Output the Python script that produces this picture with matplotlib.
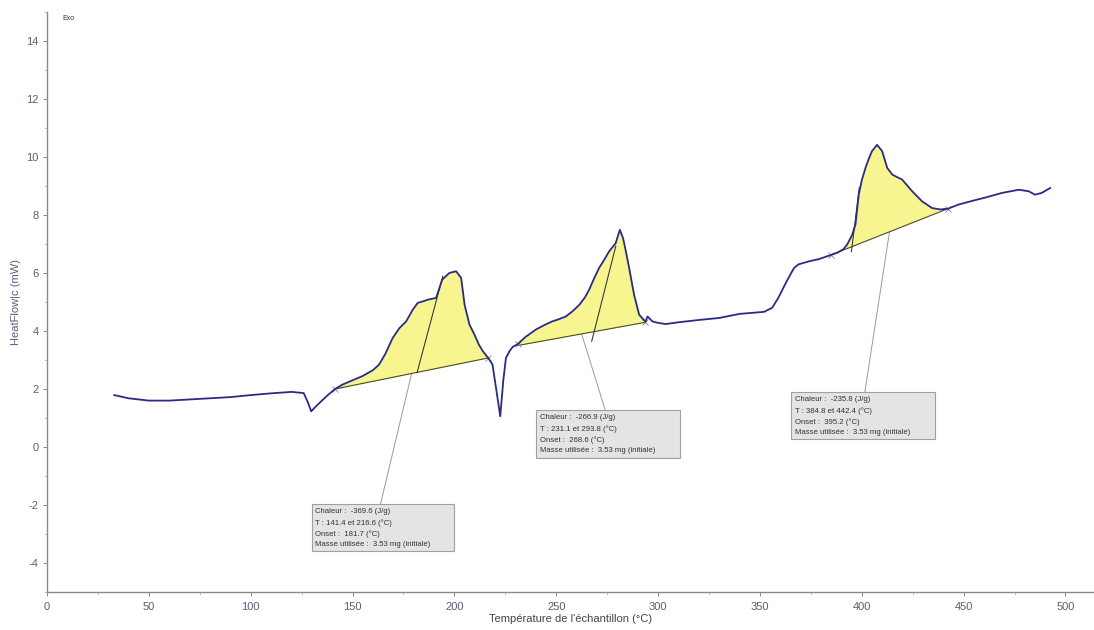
import numpy as np
import matplotlib
matplotlib.use("Agg")
import matplotlib.pyplot as plt
from matplotlib.patches import Rectangle
from matplotlib.ticker import MultipleLocator

plt.rcParams['font.family'] = ['Liberation Sans', 'DejaVu Sans']
plt.rcParams['axes.unicode_minus'] = False

# DSC heat-flow curve (temperature in °C, heat flow in mW)
temperature = [33, 40, 50, 60, 75, 90, 100, 110, 120, 126, 128, 129.7, 132, 135.4, 138,
               141.4, 145, 150, 155, 160, 163, 166, 169.7, 173, 176.3, 179.6, 182, 184.5,
               187, 191, 194, 197.5, 200.8, 203.3, 205, 207.4, 210, 212, 214, 216.6, 218.7,
               220.5, 222.5, 224, 225.3, 227, 228.6, 231.1, 235, 240, 244, 248, 251, 254.7,
               258, 261.3, 264, 266.2, 268.5, 271, 273.5, 276, 279.2, 281.2, 282.8, 284.3,
               285.8, 288.2, 290.7, 293.8, 294.8, 296, 297.2, 300, 303.7, 310, 320, 330,
               340, 352, 356, 359, 363, 366.7, 369, 374, 379, 384.8, 388, 391, 392.8,
               395.2, 396.9, 398.5, 400, 401.8, 403.5, 405, 407.5, 410, 412.5, 415, 419.8,
               424.7, 429.6, 434.5, 438.6, 442.4, 447.5, 455, 460.6, 468.8, 477, 481.9,
               485, 488.3, 492.5]
heat_flow = [1.79, 1.68, 1.60, 1.60, 1.66, 1.72, 1.79, 1.85, 1.90, 1.86, 1.55, 1.23, 1.40,
             1.63, 1.80, 2.00, 2.15, 2.30, 2.45, 2.65, 2.84, 3.20, 3.76, 4.10, 4.33, 4.74,
             4.97, 5.02, 5.08, 5.14, 5.77, 6.00, 6.06, 5.83, 4.90, 4.22, 3.85, 3.53, 3.30,
             3.07, 2.84, 2.00, 1.06, 2.30, 3.07, 3.30, 3.45, 3.55, 3.80, 4.05, 4.20, 4.33,
             4.40, 4.50, 4.68, 4.90, 5.15, 5.43, 5.80, 6.17, 6.45, 6.75, 7.03, 7.49, 7.20,
             6.70, 6.17, 5.25, 4.56, 4.32, 4.50, 4.42, 4.33, 4.28, 4.24, 4.30, 4.38, 4.45,
             4.59, 4.66, 4.80, 5.14, 5.70, 6.17, 6.30, 6.40, 6.48, 6.62, 6.70, 6.82, 6.98,
             7.30, 7.67, 8.70, 9.20, 9.62, 9.95, 10.20, 10.42, 10.20, 9.62, 9.39, 9.22,
             8.82, 8.47, 8.24, 8.19, 8.22, 8.36, 8.50, 8.60, 8.76, 8.87, 8.82, 8.70, 8.76,
             8.93]

# Integrated peaks: limits, baseline values at the limits, onset, results
peak_start = [141.4, 231.1, 384.8]
peak_end = [216.6, 293.8, 442.4]
base_start = [2.00, 3.50, 6.62]
base_end = [3.07, 4.30, 8.22]
onset = [181.7, 268.6, 395.2]
tangent_top = [(194.3, 5.89), (279.2, 6.92), (398.8, 8.95)]
tangent_low = [181.7, 267.4, 394.9]
chaleur = ["-369.6", "-266.9", "-235.8"]
masse = "3.53"

# Result boxes (left, top, right, bottom in data units) and leader anchor on box
box_extent = [(129.9, -1.97, 200.0, -3.59), (240.2, 1.28, 310.8, -0.38),
              (365.2, 1.90, 435.8, 0.28)]
leader_foot = [(163.7, -1.97), (274.0, 1.28), (401.5, 1.90)]

fig = plt.figure(figsize=(10.94, 6.30), dpi=100)
ax = fig.add_axes([0.043, 0.0603, 0.957, 0.9207])
ax.set_xlim(0, 514)
ax.set_ylim(-5, 15)

axis_grey = "#8a8a8a"
label_col = "#5c5c78"
curve_col = "#2b2b86"

T = np.array(temperature)
H = np.array(heat_flow)

for i in range(3):
    t0, t1 = peak_start[i], peak_end[i]
    b0, b1 = base_start[i], base_end[i]
    tt = np.linspace(t0, t1, 400)
    curve = np.interp(tt, T, H)
    base = b0 + (tt - t0) * (b1 - b0) / (t1 - t0)
    ax.fill_between(tt, base, curve, where=curve >= base, color="#f7f58f",
                    interpolate=True, zorder=1, linewidth=0)
    ax.plot([t0, t1], [b0, b1], color="#4a4a30", lw=0.8, zorder=3)
    # tangent through the onset point
    b_on = b0 + (onset[i] - t0) * (b1 - b0) / (t1 - t0)
    tx, ty = tangent_top[i]
    slope = (ty - b_on) / (tx - onset[i])
    tl = tangent_low[i]
    ax.plot([tl, tx], [b_on + slope * (tl - onset[i]), ty], color="#3a3a3a",
            lw=0.8, zorder=3)
    # leader from baseline midpoint to the result box
    tm = 0.5 * (t0 + t1)
    bm = 0.5 * (b0 + b1)
    fx, fy = leader_foot[i]
    ax.plot([tm, fx], [bm, fy], color="#9a9a9a", lw=0.7, zorder=2)
    # limit markers
    ax.plot([t0, t1], [np.interp(t0, T, H), np.interp(t1, T, H)], linestyle="none",
            marker="x", ms=4, mew=0.6, color="#8080a0", zorder=4)
    # result box
    l, top, r, bot = box_extent[i]
    ax.add_patch(Rectangle((l, bot), r - l, top - bot, facecolor="#e4e4e4",
                           edgecolor="#a0a0a0", lw=0.8, zorder=5))
    lines = [f"Chaleur :  {chaleur[i]} (J/g)",
             f"T : {t0:.1f} et {t1:.1f} (°C)",
             f"Onset :  {onset[i]:.1f} (°C)",
             f"Masse utilisée :  {masse} mg (initiale)"]
    for k, s in enumerate(lines):
        ax.text(l + 1.8, top - 0.14 - k * 0.38, s, fontsize=5.6, color="#333333",
                va="top", ha="left", zorder=6)

ax.plot(T, H, color=curve_col, lw=1.3, zorder=4)

for side in ("top", "right"):
    ax.spines[side].set_visible(False)
for side in ("left", "bottom"):
    ax.spines[side].set_color(axis_grey)
    ax.spines[side].set_linewidth(1.0)

ax.xaxis.set_major_locator(MultipleLocator(50))
ax.xaxis.set_minor_locator(MultipleLocator(25))
ax.yaxis.set_major_locator(MultipleLocator(2))
ax.yaxis.set_minor_locator(MultipleLocator(1))
ax.set_yticks(np.arange(-4, 15, 2))
ax.tick_params(which="major", length=3, width=0.7, color=axis_grey,
               labelsize=8, labelcolor=label_col, pad=3)
ax.tick_params(axis="x", which="major", pad=4)
ax.tick_params(which="minor", length=2, width=0.6, color="#c0c0c0")

ax.set_xlabel("Température de l'échantillon (°C)", fontsize=8, color="#444444",
              labelpad=1.5)
ax.set_ylabel("HeatFlow|c (mW)", fontsize=8, color=label_col, labelpad=4)
fig.text(62 / 1094, 1 - 20 / 630, "Exo", fontsize=5, color="#333333")

fig.savefig("out.png", dpi=100)
